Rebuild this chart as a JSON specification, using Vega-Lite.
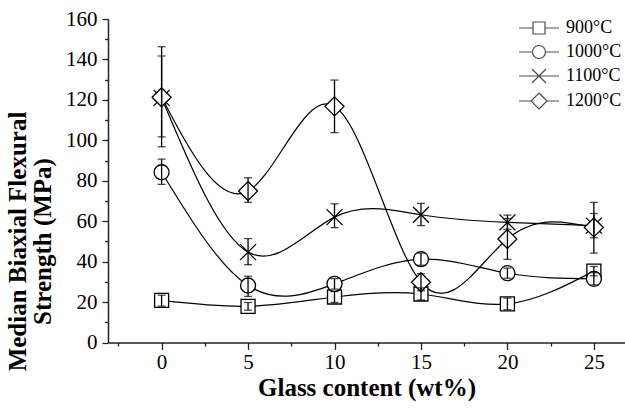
{
  "$schema": "https://vega.github.io/schema/vega-lite/v6.json",
  "autosize": {"type": "none"},
  "padding": {"left": 108, "top": 19, "right": 0, "bottom": 67.5},
  "width": 517,
  "height": 323.5,
  "background": "white",
  "config": {
    "view": {"stroke": null},
    "font": "Liberation Serif",
    "axis": {"domainColor": "#222", "domainWidth": 1.5, "tickColor": "#222", "tickWidth": 1.3, "grid": false,
      "labelFont": "Liberation Serif", "labelFontSize": 21, "labelColor": "black",
      "titleFont": "Liberation Serif", "titleFontSize": 25, "titleFontWeight": "bold", "titleColor": "black"}
  },
  "data": {"values": [
    {"series": "900°C", "wt": 0, "v": 20.8, "lo": 18.0, "hi": 23.4},
    {"series": "900°C", "wt": 5, "v": 17.9, "lo": 16.0, "hi": 19.8},
    {"series": "900°C", "wt": 10, "v": 22.5, "lo": 19.8, "hi": 25.2},
    {"series": "900°C", "wt": 15, "v": 24.0, "lo": 21.0, "hi": 27.0},
    {"series": "900°C", "wt": 20, "v": 19.1, "lo": 16.2, "hi": 22.0},
    {"series": "900°C", "wt": 25, "v": 35.3, "lo": 33.0, "hi": 37.6},
    {"series": "1000°C", "wt": 0, "v": 84.2, "lo": 78.2, "hi": 90.7},
    {"series": "1000°C", "wt": 5, "v": 28.2, "lo": 22.8, "hi": 32.8},
    {"series": "1000°C", "wt": 10, "v": 29.0, "lo": 26.4, "hi": 31.6},
    {"series": "1000°C", "wt": 15, "v": 41.2, "lo": 38.2, "hi": 44.2},
    {"series": "1000°C", "wt": 20, "v": 34.3, "lo": 31.8, "hi": 36.8},
    {"series": "1000°C", "wt": 25, "v": 31.5, "lo": 28.5, "hi": 34.5},
    {"series": "1100°C", "wt": 0, "v": 121.0, "lo": 101.7, "hi": 141.7},
    {"series": "1100°C", "wt": 5, "v": 44.7, "lo": 38.5, "hi": 51.4},
    {"series": "1100°C", "wt": 10, "v": 62.0, "lo": 56.8, "hi": 68.6},
    {"series": "1100°C", "wt": 15, "v": 63.2, "lo": 57.8, "hi": 68.8},
    {"series": "1100°C", "wt": 20, "v": 59.4, "lo": 56.0, "hi": 63.0},
    {"series": "1100°C", "wt": 25, "v": 57.8, "lo": 51.8, "hi": 63.8},
    {"series": "1200°C", "wt": 0, "v": 121.3, "lo": 96.8, "hi": 146.3},
    {"series": "1200°C", "wt": 5, "v": 74.9, "lo": 69.3, "hi": 81.5},
    {"series": "1200°C", "wt": 10, "v": 116.8, "lo": 103.8, "hi": 129.8},
    {"series": "1200°C", "wt": 15, "v": 29.8, "lo": 25.6, "hi": 34.0},
    {"series": "1200°C", "wt": 20, "v": 51.2, "lo": 41.1, "hi": 61.3},
    {"series": "1200°C", "wt": 25, "v": 56.9, "lo": 44.2, "hi": 69.3}
  ]},
  "resolve": {"scale": {"shape": "independent"}, "axis": {"x": "independent", "y": "independent"}},
  "layer": [
    {
      "mark": {"type": "line", "interpolate": "natural", "color": "black", "strokeWidth": 1.2},
      "encoding": {
        "x": {"field": "wt", "type": "quantitative", "scale": {"domain": [-3.1, 26.8], "nice": false, "zero": false},
          "axis": {"orient": "bottom", "values": [0, 5, 10, 15, 20, 25], "tickSize": 7, "labelPadding": 2, "title": "Glass content (wt%)", "titlePadding": 3}},
        "y": {"field": "v", "type": "quantitative", "scale": {"domain": [0, 160], "nice": false},
          "axis": {"orient": "left", "values": [0, 20, 40, 60, 80, 100, 120, 140, 160], "tickSize": 6, "labelPadding": 5,
            "title": ["Median Biaxial Flexural", "Strength (MPa)"], "titleLineHeight": 25, "titleX": -78, "titleY": 222, "titleBaseline": "bottom", "titleAngle": 270}},
        "detail": {"field": "series"}
      }
    },
    {
      "mark": {"type": "point", "fill": "white", "stroke": "black", "strokeWidth": 1.3, "opacity": 1, "size": 400},
      "encoding": {
        "x": {"field": "wt", "type": "quantitative", "axis": null},
        "y": {"field": "v", "type": "quantitative", "axis": null},
        "shape": {"field": "series", "type": "nominal", "legend": null,
          "scale": {"domain": ["900°C", "1000°C", "1100°C", "1200°C"],
            "range": ["M-0.7,-0.7L0.7,-0.7L0.7,0.7L-0.7,0.7Z",
              "M0.75,0A0.75,0.75,0,1,1,-0.75,0A0.75,0.75,0,1,1,0.75,0Z",
              "M-0.8,-0.8L0.8,0.8M-0.8,0.8L0.8,-0.8",
              "M0,-0.95L0.95,0L0,0.95L-0.95,0Z"]}}
      }
    },
    {
      "mark": {"type": "errorbar", "color": "black", "thickness": 1.3, "ticks": {"size": 8, "color": "black", "thickness": 1.3}},
      "encoding": {
        "x": {"field": "wt", "type": "quantitative", "axis": null},
        "y": {"field": "lo", "type": "quantitative", "axis": null},
        "y2": {"field": "hi"}
      }
    },
    {
      "transform": [{"filter": "datum.wt > 100"}],
      "mark": {"type": "point", "fill": "white", "stroke": "black", "strokeWidth": 1.3, "size": 400},
      "encoding": {
        "x": {"field": "wt", "type": "quantitative",
          "axis": {"orient": "bottom", "values": [-2.5, 2.5, 7.5, 12.5, 17.5, 22.5], "tickSize": 3.5, "labels": false, "title": null, "domain": false}},
        "y": {"field": "v", "type": "quantitative",
          "axis": {"orient": "left", "values": [10, 30, 50, 70, 90, 110, 130, 150], "tickSize": 3.5, "labels": false, "title": null, "domain": false}},
        "shape": {"field": "series", "type": "nominal",
          "scale": {"domain": ["900°C", "1000°C", "1100°C", "1200°C"],
            "range": ["M-2,0L-0.6,0M0.6,0L2,0M-0.6,-0.6L0.6,-0.6L0.6,0.6L-0.6,0.6Z",
              "M-2,0L-0.65,0M0.65,0L2,0M0.65,0A0.65,0.65,0,1,1,-0.65,0A0.65,0.65,0,1,1,0.65,0Z",
              "M-2,0L2,0M-0.7,-0.7L0.7,0.7M-0.7,0.7L0.7,-0.7",
              "M-2,0L-0.8,0M0.8,0L2,0M0,-0.8L0.8,0L0,0.8L-0.8,0Z"]},
          "legend": {"orient": "none", "legendX": 420, "legendY": -2, "title": null, "padding": 0,
            "symbolSize": 400, "rowPadding": 4, "labelOffset": 16, "labelFontSize": 18, "labelFont": "Liberation Serif", "labelColor": "black",
            "symbolStrokeWidth": 1.2,
            "encode": {"symbols": {"update": {"fill": {"value": "white"}, "stroke": {"value": "black"}, "opacity": {"value": 1}}}}}}
      }
    }
  ]
}
